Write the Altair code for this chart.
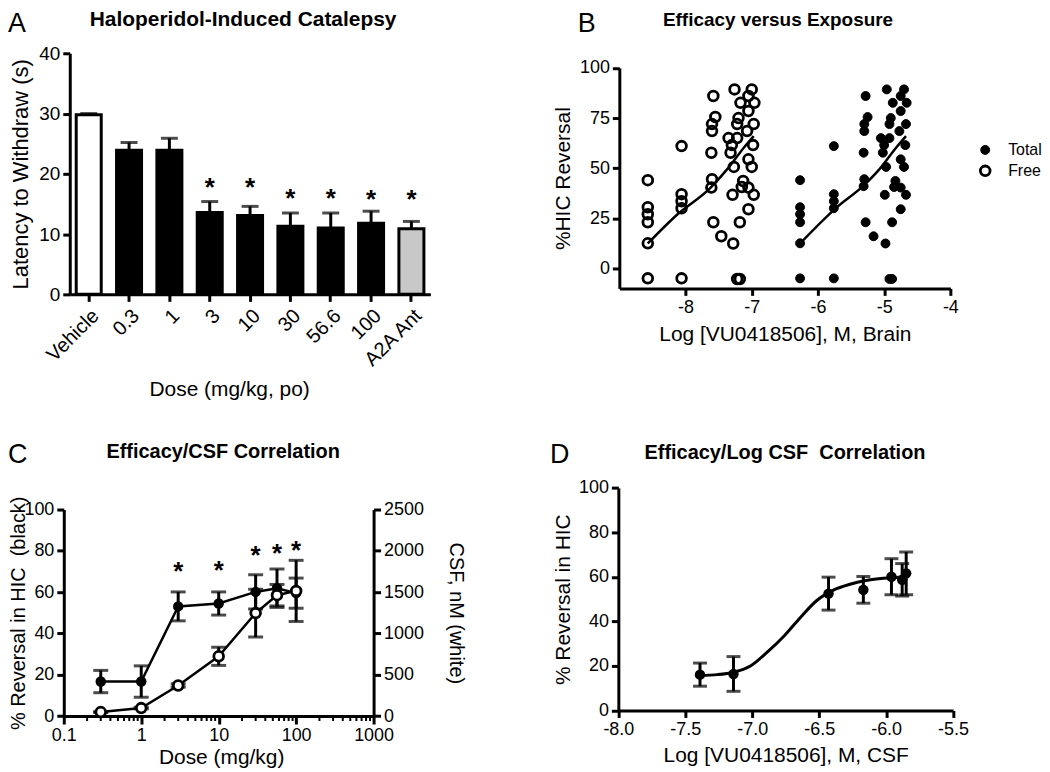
import altair as alt
import pandas as pd

F = "Liberation Sans"

# ---------------- Panel A data ----------------
a_groups = ["Vehicle", "0.3", "1", "3", "10", "30", "56.6", "100", "A2A Ant"]
a_kind = ["vehicle", "drug", "drug", "drug", "drug", "drug", "drug", "drug", "a2a"]
a_mean = [29.8, 23.9, 23.9, 13.6, 13.1, 11.3, 11.0, 11.8, 10.9]
a_sem = [0.2, 1.3, 2.0, 1.8, 1.5, 2.2, 2.5, 2.0, 1.2]
a_star_groups = ["3", "10", "30", "56.6", "100", "A2A Ant"]
a_star_y = [19.0, 19.0, 17.1, 17.1, 16.9, 16.9]

# ---------------- Panel B data ----------------
b_free_x = [-8.57, -8.57, -8.57, -8.57, -8.57, -8.57,
            -8.06, -8.06, -8.06, -8.06, -8.06,
            -7.58, -7.55, -7.60, -7.60, -7.61, -7.60, -7.61, -7.58, -7.46,
            -7.26, -7.00, -7.05, -7.17, -6.96, -7.05, -7.20, -7.22, -6.97, -7.07,
            -7.35, -7.22, -7.30, -6.98, -7.32, -7.05, -7.00, -7.27, -7.13, -7.15,
            -7.05, -7.29, -6.97, -7.05, -7.18, -7.28, -7.22, -7.18]
b_free_y = [44, 30.5, 27, 23, 12.5, -5,
            61, 37, 33.5, 30, -5,
            86, 75.5, 72, 68.5, 57.7, 44.5, 40.3, 23, 16,
            89.3, 89.3, 86, 82.6, 82.6, 78.5, 75, 72, 72, 68.5,
            65, 65, 61.5, 61.5, 57.7, 54.4, 50.6, 50.6, 43.6, 40.6,
            40.3, 36.7, 36.7, 29.5, 23, 12.4, -5.3, -5.3]
b_total_x = [-6.27, -6.27, -6.27, -6.27, -6.27, -6.27,
             -5.76, -5.76, -5.76, -5.76, -5.76,
             -5.28, -5.25, -5.30, -5.30, -5.31, -5.30, -5.31, -5.28, -5.16,
             -4.96, -4.70, -4.75, -4.87, -4.66, -4.75, -4.90, -4.92, -4.67, -4.77,
             -5.05, -4.92, -5.00, -4.68, -5.02, -4.75, -4.70, -4.97, -4.83, -4.85,
             -4.75, -4.99, -4.67, -4.75, -4.88, -4.98, -4.92, -4.88]
b_total_y = [44, 30.5, 27, 23, 12.5, -5,
             61, 37, 33.5, 30, -5,
             86, 75.5, 72, 68.5, 57.7, 44.5, 41, 23, 16,
             89.3, 89.3, 86, 82.6, 82.6, 78.5, 75, 72, 72, 68.5,
             65, 65, 61.5, 61.5, 57.7, 54.4, 50.6, 50.6, 43.6, 40.6,
             40.3, 36.7, 36.7, 29.5, 23, 12.4, -5.3, -5.3]
b_free_curve_x = [-8.57, -8.12, -7.62, -7.37, -7.12, -6.97]
b_free_curve_y = [12.4, 27.0, 40.3, 49.5, 60.2, 66.0]
b_total_curve_x = [-6.27, -5.72, -5.32, -5.07, -4.82, -4.67]
b_total_curve_y = [12.4, 30.3, 41.0, 49.5, 60.2, 66.0]
b_series = ["Total", "Free"]

# ---------------- Panel C data ----------------
c_dose = [0.3, 1, 3, 10, 30, 56.6, 100]
c_hic = [16.7, 16.7, 53.1, 54.5, 60.1, 61.9, 59.5]
c_hic_sem = [5.4, 7.6, 7.0, 5.6, 8.3, 9.3, 7.3]
c_csf = [48, 96, 370, 723, 1246, 1463, 1515]
c_csf_sem = [5, 10, 20, 110, 290, 130, 370]
c_star_dose = [3, 10, 30, 56.6, 100]
c_star_y = [73.5, 74.3, 81.5, 82.3, 83.9]
c_major = [0.1, 1, 10, 100, 1000]
c_minor = [0.2, 0.3, 0.4, 0.5, 0.6, 0.7, 0.8, 0.9,
           2, 3, 4, 5, 6, 7, 8, 9,
           20, 30, 40, 50, 60, 70, 80, 90,
           200, 300, 400, 500, 600, 700, 800, 900]

# ---------------- Panel D data ----------------
d_x = [-7.39, -7.14, -6.43, -6.17, -5.96, -5.88, -5.85]
d_y = [16.1, 16.4, 52.5, 54.2, 60.1, 58.7, 61.6]
d_sem = [5.2, 7.8, 7.4, 6.0, 8.1, 7.3, 9.6]
d_curve_x = [-7.39, -7.26, -7.14, -7.01, -6.89, -6.76, -6.64, -6.52, -6.39, -6.27, -6.14, -6.02, -5.85]
d_curve_y = [15.7, 16.1, 17.2, 20.1, 26.1, 33.6, 41.8, 49.3, 54.2, 56.7, 58.5, 59.4, 60.0]

# ---------------- canvas & panel frames (pixels) ----------------
W, H = 1034, 756
A_X, A_Y = (62, 424), (286, 44)
B_X, B_Y = (613.7, 946), (280, 58.7)
C_X, C_Y = (56, 367), (709.3, 502)
D_X, D_Y = (612.7, 948.7), (703.7, 480.3)


def label_text(t, x, y, size=27, weight="normal", align="left", baseline="top"):
    return alt.Chart(pd.DataFrame({"t": [t]})).mark_text(
        align=align, baseline=baseline, fontSize=size, fontWeight=weight, font=F, color="black"
    ).encode(text="t:N", x=alt.value(x), y=alt.value(y))


NEG = "(datum.value < 0 ? '-' : '') + format(abs(datum.value), '{}')"

# ================= Panel A =================
dfA = pd.DataFrame({"group": a_groups, "kind": a_kind, "mean": a_mean, "sem": a_sem})
dfA["hi"] = dfA["mean"] + dfA["sem"]
dfAs = pd.DataFrame({"group": a_star_groups, "y": a_star_y, "t": ["*"] * len(a_star_groups)})

xA = alt.X("group:N", sort=a_groups, title="Dose (mg/kg, po)",
           scale=alt.Scale(range=list(A_X), paddingInner=0.38, paddingOuter=0.16),
           axis=alt.Axis(orient="bottom", offset=A_Y[0] - H, labelAngle=-45, labelFontSize=20,
                         titleFontSize=21, titleX=222, titleY=96, titleAlign="center",
                         titleBaseline="middle", labelPadding=4))


def yA(f):
    return alt.Y(f, title="Latency to Withdraw (s)",
                 scale=alt.Scale(domain=[0, 40], nice=False, range=list(A_Y)),
                 axis=alt.Axis(orient="left", offset=-A_X[0], values=[0, 10, 20, 30, 40],
                               labelFontSize=19, titleFontSize=22, titleX=-49,
                               titleY=(A_Y[0] + A_Y[1]) / 2, titleAlign="center",
                               titleBaseline="middle", titleAngle=-90))


barsA = alt.Chart(dfA).mark_bar(stroke="black", strokeWidth=3).encode(
    x=xA, y=yA("mean:Q"),
    fill=alt.Fill("kind:N", scale=alt.Scale(domain=["vehicle", "drug", "a2a"],
                                            range=["white", "black", "#c8c8c8"]), legend=None))
errA = alt.Chart(dfA).mark_rule(strokeWidth=3, color="black").encode(x=xA, y=yA("mean:Q"), y2="hi:Q")
capA = alt.Chart(dfA).mark_tick(orient="horizontal", size=17, thickness=3, color="black").encode(
    x=xA, y=yA("hi:Q"))
starA = alt.Chart(dfAs).mark_text(fontSize=26, fontWeight="bold", font=F, baseline="middle",
                                  dy=8, color="black").encode(x=xA, y=yA("y:Q"), text="t:N")
A = alt.layer(barsA, errA, capA, starA)

# ================= Panel B =================


def xB(f):
    return alt.X(f, title="Log [VU0418506], M, Brain",
                 scale=alt.Scale(domain=[-9, -4], nice=False, range=list(B_X)),
                 axis=alt.Axis(orient="bottom", offset=B_Y[0] - H, values=[-8, -7, -6, -5, -4],
                               labelExpr=NEG.format("d"), titleX=(B_X[0] + B_X[1]) / 2, titleY=46,
                               titleAlign="center", titleBaseline="middle"))


def yB(f):
    return alt.Y(f, title="%HIC Reversal",
                 scale=alt.Scale(domain=[-10, 100], nice=False, range=list(B_Y)),
                 axis=alt.Axis(orient="left", offset=-B_X[0], values=[0, 25, 50, 75, 100],
                               titleX=-56, titleY=(B_Y[0] + B_Y[1]) / 2, titleAlign="center",
                               titleBaseline="middle", titleAngle=-90))


dfB = pd.concat([
    pd.DataFrame({"x": b_total_x, "y": b_total_y, "series": "Total"}),
    pd.DataFrame({"x": b_free_x, "y": b_free_y, "series": "Free"}),
], ignore_index=True)
dfBct = pd.DataFrame({"x": b_total_curve_x, "y": b_total_curve_y})
dfBcf = pd.DataFrame({"x": b_free_curve_x, "y": b_free_curve_y})

curveBt = alt.Chart(dfBct).mark_line(color="black", strokeWidth=2.5, interpolate="monotone").encode(
    x=xB("x:Q"), y=yB("y:Q"))
curveBf = alt.Chart(dfBcf).mark_line(color="black", strokeWidth=2.5, interpolate="monotone").encode(
    x=xB("x:Q"), y=yB("y:Q"))
ptsB = alt.Chart(dfB).mark_point(shape="circle", filled=True, stroke="black", opacity=1).encode(
    x=xB("x:Q"), y=yB("y:Q"),
    color=alt.Color("series:N", scale=alt.Scale(domain=b_series, range=["black", "transparent"]),
                    sort=b_series,
                    legend=alt.Legend(title=None, orient="none", legendX=973, legendY=133,
                                      labelFontSize=16, labelFont=F, labelColor="black",
                                      symbolSize=115, symbolType="circle", symbolStrokeColor="black",
                                      symbolStrokeWidth=2.6, labelOffset=15, rowPadding=2)),
    size=alt.Size("series:N", scale=alt.Scale(domain=b_series, range=[80, 95]), legend=None),
    strokeWidth=alt.StrokeWidth("series:N", scale=alt.Scale(domain=b_series, range=[1, 2.8]), legend=None),
)
B = alt.layer(curveBf, curveBt, ptsB)

# ================= Panel C =================


def xC(f, show=True):
    ax = alt.Axis(orient="bottom", offset=C_Y[0] - H, values=c_major, format=".2~f", tickSize=8,
                  titleX=214, titleY=42, titleAlign="center", titleBaseline="middle") if show else None
    return alt.X(f, title="Dose (mg/kg)",
                 scale=alt.Scale(type="log", domain=[0.1, 1000], nice=False, range=list(C_X)), axis=ax)


def yCL(f):
    return alt.Y(f, title="% Reversal in HIC \u00a0(black)",
                 scale=alt.Scale(domain=[0, 100], nice=False, range=list(C_Y)),
                 axis=alt.Axis(orient="left", offset=-C_X[0], values=[0, 20, 40, 60, 80, 100],
                               titleFontSize=20, titleX=-45, titleY=(C_Y[0] + C_Y[1]) / 2,
                               titleAlign="center", titleBaseline="middle", titleAngle=-90))


def yCR(f):
    return alt.Y(f, title="CSF, nM (white)",
                 scale=alt.Scale(domain=[0, 2500], nice=False, range=list(C_Y)),
                 axis=alt.Axis(orient="right", offset=C_X[1] - W, values=[0, 500, 1000, 1500, 2000, 2500],
                               format="d", titleFontSize=20, titleX=82, titleY=(C_Y[0] + C_Y[1]) / 2,
                               titleAlign="center", titleBaseline="middle", titleAngle=90))


dfC = pd.DataFrame({"dose": c_dose, "hic": c_hic, "hsem": c_hic_sem, "csf": c_csf, "csem": c_csf_sem})
dfC["hlo"] = dfC["hic"] - dfC["hsem"]
dfC["hhi"] = dfC["hic"] + dfC["hsem"]
dfC["clo"] = dfC["csf"] - dfC["csem"]
dfC["chi"] = dfC["csf"] + dfC["csem"]
capsCk = pd.DataFrame({"dose": list(dfC["dose"]) * 2, "y": list(dfC["hlo"]) + list(dfC["hhi"])})
capsCw = pd.DataFrame({"dose": list(dfC["dose"]) * 2, "y": list(dfC["clo"]) + list(dfC["chi"])})
dfCs = pd.DataFrame({"dose": c_star_dose, "y": c_star_y, "t": ["*"] * len(c_star_dose)})
dfCm = pd.DataFrame({"v": c_minor})

lineCk = alt.Chart(dfC).mark_line(color="black", strokeWidth=2.5).encode(x=xC("dose:Q"), y=yCL("hic:Q"))
errCk = alt.Chart(dfC).mark_rule(color="black", strokeWidth=3).encode(x=xC("dose:Q"), y=yCL("hlo:Q"), y2="hhi:Q")
capCk = alt.Chart(capsCk).mark_tick(orient="horizontal", size=15, thickness=3, color="black").encode(
    x=xC("dose:Q"), y=yCL("y:Q"))
ptsCk = alt.Chart(dfC).mark_point(shape="circle", filled=True, size=110, color="black", opacity=1).encode(
    x=xC("dose:Q"), y=yCL("hic:Q"))
starCk = alt.Chart(dfCs).mark_text(fontSize=26, fontWeight="bold", font=F, baseline="middle", dy=8,
                                   color="black").encode(x=xC("dose:Q"), y=yCL("y:Q"), text="t:N")
minorC = alt.Chart(dfCm).mark_rule(color="black", strokeWidth=2).encode(
    x=xC("v:Q"), y=alt.value(C_Y[0]), y2=alt.value(C_Y[0] + 5))

lineCw = alt.Chart(dfC).mark_line(color="black", strokeWidth=2.5).encode(x=xC("dose:Q", False), y=yCR("csf:Q"))
errCw = alt.Chart(dfC).mark_rule(color="black", strokeWidth=3).encode(
    x=xC("dose:Q", False), y=yCR("clo:Q"), y2="chi:Q")
capCw = alt.Chart(capsCw).mark_tick(orient="horizontal", size=15, thickness=3, color="black").encode(
    x=xC("dose:Q", False), y=yCR("y:Q"))
ptsCw = alt.Chart(dfC).mark_point(shape="circle", filled=True, size=95, fill="white", stroke="black",
                                  strokeWidth=2.8, opacity=1).encode(x=xC("dose:Q", False), y=yCR("csf:Q"))

Cb = alt.layer(lineCk, errCk, capCk, ptsCk, starCk, minorC)
Cw = alt.layer(lineCw, errCw, capCw, ptsCw)

# ================= Panel D =================


def xD(f):
    return alt.X(f, title="Log [VU0418506], M, CSF",
                 scale=alt.Scale(domain=[-8, -5.5], nice=False, range=list(D_X)),
                 axis=alt.Axis(orient="bottom", offset=D_Y[0] - H, values=[-8, -7.5, -7, -6.5, -6, -5.5],
                               labelExpr=NEG.format(".1f"), titleX=(D_X[0] + D_X[1]) / 2, titleY=45,
                               titleAlign="center", titleBaseline="middle"))


def yD(f):
    return alt.Y(f, title="% Reversal in HIC",
                 scale=alt.Scale(domain=[0, 100], nice=False, range=list(D_Y)),
                 axis=alt.Axis(orient="left", offset=-D_X[0], values=[0, 20, 40, 60, 80, 100],
                               titleX=-55, titleY=(D_Y[0] + D_Y[1]) / 2, titleAlign="center",
                               titleBaseline="middle", titleAngle=-90))


dfD = pd.DataFrame({"x": d_x, "y": d_y, "sem": d_sem})
dfD["lo"] = dfD["y"] - dfD["sem"]
dfD["hi"] = dfD["y"] + dfD["sem"]
capsD = pd.DataFrame({"x": list(dfD["x"]) * 2, "y": list(dfD["lo"]) + list(dfD["hi"])})
dfDc = pd.DataFrame({"x": d_curve_x, "y": d_curve_y})

curveD = alt.Chart(dfDc).mark_line(color="black", strokeWidth=3, interpolate="monotone").encode(
    x=xD("x:Q"), y=yD("y:Q"))
errD = alt.Chart(dfD).mark_rule(color="black", strokeWidth=3).encode(x=xD("x:Q"), y=yD("lo:Q"), y2="hi:Q")
capD = alt.Chart(capsD).mark_tick(orient="horizontal", size=14, thickness=3, color="black").encode(
    x=xD("x:Q"), y=yD("y:Q"))
ptsD = alt.Chart(dfD).mark_point(shape="circle", filled=True, size=110, color="black", opacity=1).encode(
    x=xD("x:Q"), y=yD("y:Q"))
D = alt.layer(curveD, errD, capD, ptsD)

# ================= Panel letters & titles =================
texts = [
    label_text("A", 0, 2),
    label_text("Haloperidol-Induced Catalepsy", 236, 11, size=21, weight="bold", align="center", baseline="middle"),
    label_text("B", 572, 2),
    label_text("Efficacy versus Exposure", 773, 11, size=19, weight="bold", align="center", baseline="middle"),
    label_text("C", 0, 434),
    label_text("Efficacy/CSF Correlation", 216, 444, size=20, weight="bold", align="center", baseline="middle"),
    label_text("D", 544, 434),
    label_text("Efficacy/Log CSF \u00a0Correlation", 780, 445, size=20, weight="bold", align="center",
               baseline="middle"),
]

chart = alt.layer(A, B, Cb, Cw, D, *texts).resolve_scale(
    x="independent", y="independent", fill="independent", color="independent",
    size="independent", strokeWidth="independent"
).resolve_legend(color="independent").properties(width=W, height=H, padding=0)

chart = chart.configure_view(stroke=None).configure_axis(
    domainColor="black", domainWidth=3, tickColor="black", tickWidth=3, tickSize=7,
    labelColor="black", labelFont=F, labelFontSize=18, titleFont=F, titleFontSize=21,
    titleFontWeight="normal", titleColor="black", grid=False, labelPadding=3,
    labelFlush=False, labelOverlap=False
)

chart.save("out.html", embed_options={"renderer": "svg", "actions": False})
